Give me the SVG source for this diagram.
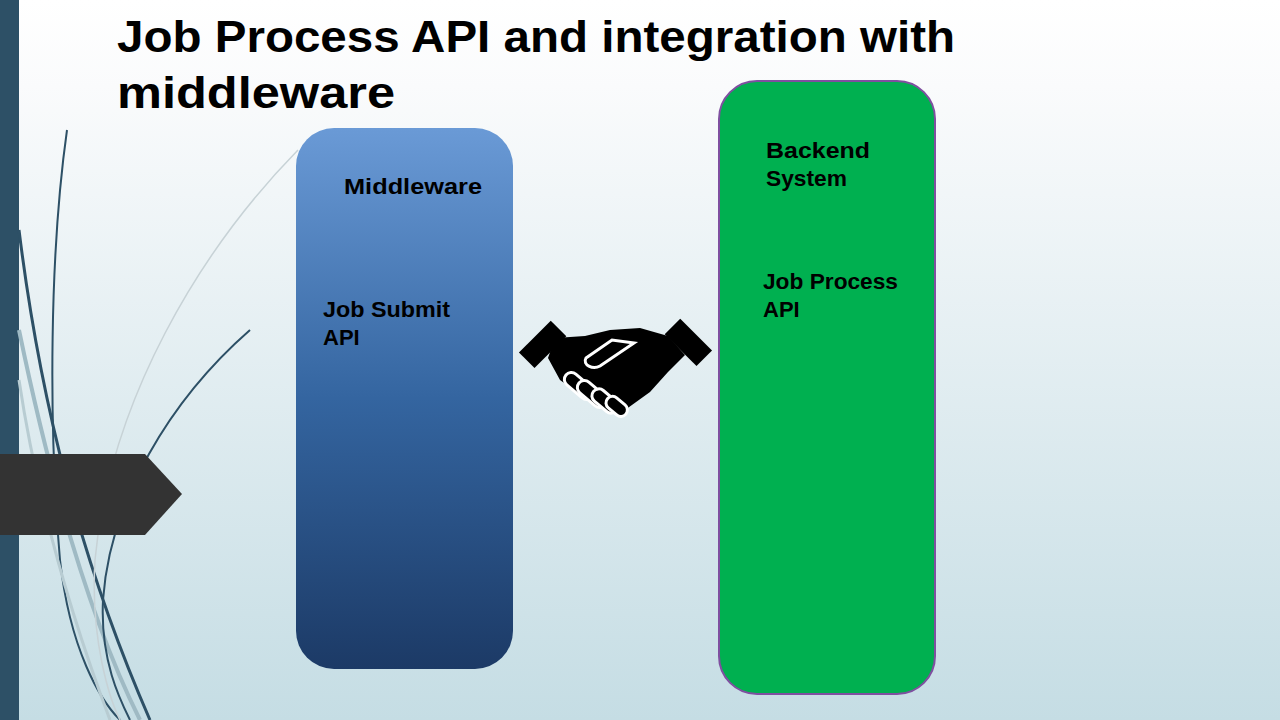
<svg xmlns="http://www.w3.org/2000/svg" width="1280" height="720" viewBox="0 0 1280 720">
<defs>
<linearGradient id="bg" x1="0" y1="0" x2="0" y2="1"><stop offset="0" stop-color="#ffffff"/><stop offset="0.12" stop-color="#fafbfc"/><stop offset="1" stop-color="#c5dde4"/></linearGradient>
<linearGradient id="mw" x1="0" y1="0" x2="0" y2="1"><stop offset="0" stop-color="#6a9ad6"/><stop offset="0.5" stop-color="#3465a0"/><stop offset="1" stop-color="#1c3a66"/></linearGradient>
<style>.t{font-family:"Liberation Sans",Arial,sans-serif;font-weight:bold;fill:#000}.lbl{font-size:22px}</style>
</defs>
<rect width="1280" height="720" fill="url(#bg)"/>
<rect x="0" y="0" width="19" height="720" fill="#2d5066"/>
<g fill="none">
<path d="M67 130 C50 250 48 420 60 560 C70 650 100 700 120 720" stroke="#2d5066" stroke-width="2"/>
<path d="M19 230 C40 400 80 560 150 720" stroke="#2d5066" stroke-width="3"/>
<path d="M19 330 C50 480 90 620 140 720" stroke="#9fbac4" stroke-width="4"/>
<path d="M19 380 C40 520 80 640 110 720" stroke="#b8ccd2" stroke-width="3"/>
<path d="M298 150 C200 250 110 400 95 560 C90 640 110 700 120 720" stroke="#c7d2d6" stroke-width="1.5"/>
<path d="M250 330 C170 400 110 500 103 600 C100 660 120 700 130 720" stroke="#2d5066" stroke-width="2"/>
</g>
<polygon points="0,454 145,454 182,494 145,535 0,535" fill="#333333"/>
<text class="t" x="117" y="52" font-size="44" textLength="838" lengthAdjust="spacingAndGlyphs">Job Process API and integration with</text>
<text class="t" x="117" y="108" font-size="44" textLength="278" lengthAdjust="spacingAndGlyphs">middleware</text>
<g id="middleware">
<rect x="296" y="128" width="217" height="541" rx="38" fill="url(#mw)"/>
<text class="t lbl" x="344" y="194" textLength="138" lengthAdjust="spacingAndGlyphs">Middleware</text>
<text class="t lbl" x="323" y="317" textLength="127" lengthAdjust="spacingAndGlyphs">Job Submit</text>
<text class="t lbl" x="323" y="345">API</text>
</g>
<g id="backend">
<rect x="719" y="81" width="216" height="613" rx="38" fill="#00b050" stroke="#7f4fa0" stroke-width="2"/>
<text class="t lbl" x="766" y="158" textLength="104" lengthAdjust="spacingAndGlyphs">Backend</text>
<text class="t lbl" x="766" y="186" textLength="81" lengthAdjust="spacingAndGlyphs">System</text>
<text class="t lbl" x="763" y="289" textLength="135" lengthAdjust="spacingAndGlyphs">Job Process</text>
<text class="t lbl" x="763" y="317">API</text>
</g>
<g id="handshake" fill="#000">
<rect x="532" y="322" width="22" height="45" transform="rotate(45 543 344)"/>
<rect x="677" y="320" width="22" height="45" transform="rotate(-45 688 342)"/>
<path d="M555 338 L585 336 L610 330 L640 328 L668 336 L685 355 L668 372 L650 392 L625 410 L590 402 L560 380 L548 358 Z"/>
<path d="M586 358 L612 340 L634 343 L600 366 C593 370 582 365 586 358 Z" fill="none" stroke="#fff" stroke-width="3"/>
<g stroke="#fff" stroke-width="3" fill="#000">
<rect x="562" y="379" width="34" height="14" rx="7" transform="rotate(40 579 386)"/>
<rect x="575" y="387" width="34" height="14" rx="7" transform="rotate(40 592 394)"/>
<rect x="590" y="394" width="30" height="14" rx="7" transform="rotate(40 605 401)"/>
<rect x="605" y="400" width="24" height="13" rx="6.5" transform="rotate(40 617 406)"/>
</g>
</g>
<g id="connectors"/>
</svg>
